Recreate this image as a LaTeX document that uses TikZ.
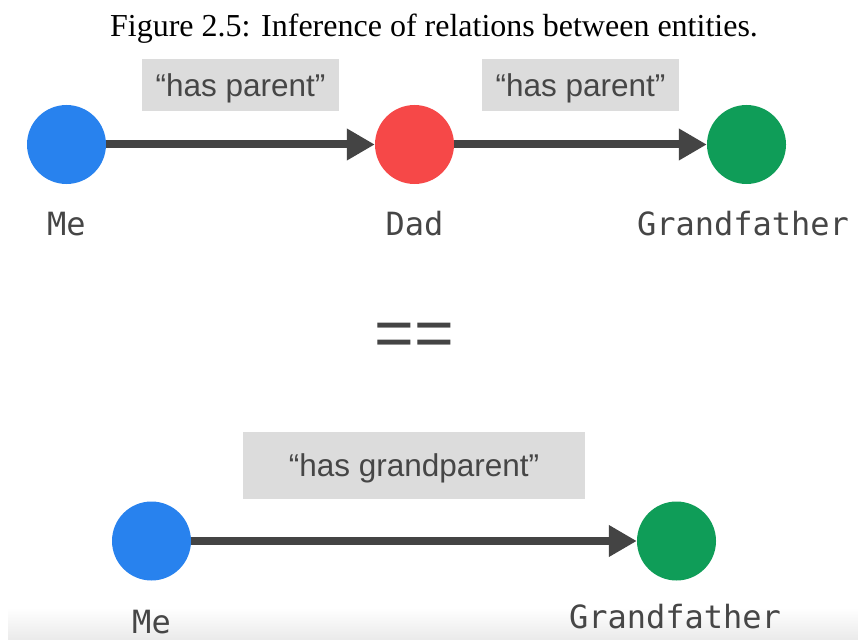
\documentclass[tikz,border=0pt]{standalone}
\usepackage{fontspec}
\setmainfont{Liberation Serif}
\setsansfont{Liberation Sans}
\setmonofont{DejaVu Sans Mono}
\usetikzlibrary{arrows.meta}

\definecolor{meblue}{RGB}{40,130,238}
\definecolor{dadred}{RGB}{246,72,72}
\definecolor{grandgreen}{RGB}{15,157,88}
\definecolor{linkgray}{RGB}{68,68,68}
\definecolor{boxgray}{RGB}{220,220,220}
\definecolor{textgray}{RGB}{70,70,70}

\tikzset{
    entity/.style={circle, minimum size=79pt, inner sep=0pt},
    entname/.style={anchor=base, text=textgray, font=\ttfamily\fontsize{32}{38}\selectfont},
    relation/.style={fill=boxgray, inner sep=0pt, text=textgray, font=\sffamily\fontsize{31.5}{36}\selectfont, text height=22.5pt, text depth=0pt},
    link/.style={draw=linkgray, line width=8pt, -{Triangle[length=28pt,width=30pt]}}
}

\begin{document}
\begin{tikzpicture}[x=1pt,y=-1pt]
            \useasboundingbox (0,0) rectangle (858,639);
            \fill[white] (0,0) rectangle (858,639);
            \shade[top color=white, bottom color=black!8] (8,608) rectangle (858,639);

            \node[anchor=base, font=\fontsize{32}{38}\selectfont] (caption) at (434,37) {Figure 2.5: Inference of relations between entities.};

            % Me -> Dad -> Grandfather
            \node[entity, fill=meblue] (me) at (66.5,144.5) {};
            \node[entity, fill=dadred] (dad) at (414.5,144.5) {};
            \node[entity, fill=grandgreen] (grandfather) at (746.5,144.5) {};
            \draw[link] (me) -- (dad);
            \draw[link] (dad) -- (grandfather);
            \node[relation, minimum width=197pt, minimum height=52pt] (parent1) at (240.5,85) {“has parent”};
            \node[relation, minimum width=197pt, minimum height=52pt] (parent2) at (580.5,85) {“has parent”};
            \node[entname] (melabel) at (66.5,235) {Me};
            \node[entname] (dadlabel) at (414.5,235) {Dad};
            \node[entname] (grandfatherlabel) at (743,235) {Grandfather};

            % ==
            \node[text=linkgray, font=\sffamily\fontsize{68}{80}\selectfont, inner sep=0pt] (equals) at (414,340) {==};

            % Me -> Grandfather
            \node[entity, fill=meblue] (me2) at (151.5,541) {};
            \node[entity, fill=grandgreen] (grandfather2) at (676.5,541) {};
            \draw[link] (me2) -- (grandfather2);
            \node[relation, minimum width=342pt, minimum height=67pt] (grandparent) at (414,465.5) {“has grandparent”};
            \node[entname] (melabel2) at (151.5,633) {Me};
            \node[entname] (grandfatherlabel2) at (675,628) {Grandfather};
        \end{tikzpicture}
\end{document}
